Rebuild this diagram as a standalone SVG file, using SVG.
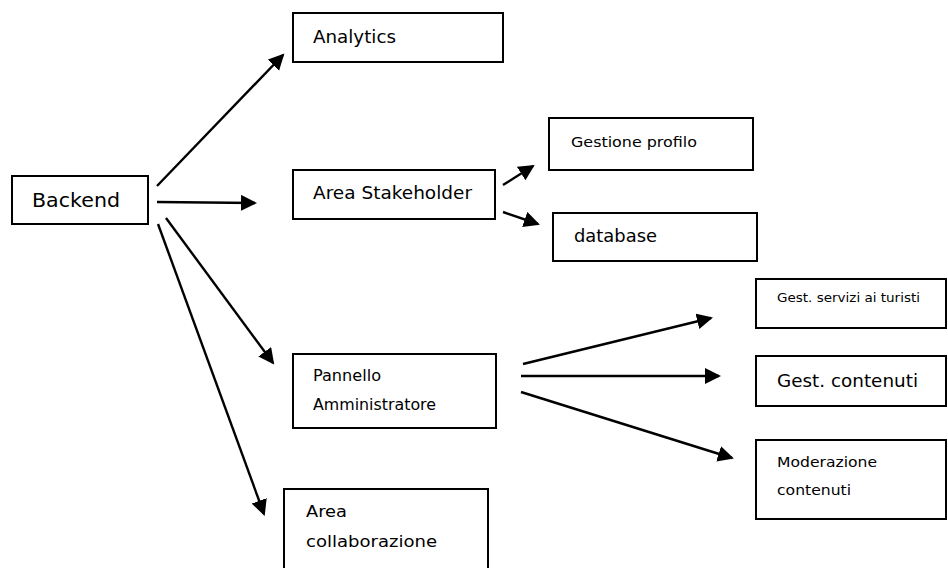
<svg xmlns="http://www.w3.org/2000/svg" width="948" height="568" viewBox="0 0 948 568">
<defs>
<marker id="ah" markerUnits="userSpaceOnUse" markerWidth="18" markerHeight="18" refX="14" refY="8" orient="auto">
<path d="M0,0 L16,8 L0,16 z" fill="#000"/>
</marker>
<style>
.box{fill:#fff;stroke:#000;stroke-width:2}
.t{font-family:"DejaVu Sans","Verdana",sans-serif;fill:#000}
.c{stroke:#000;stroke-width:2.4;fill:none;marker-end:url(#ah)}
</style>
</defs>
<rect width="948" height="568" fill="#fff"/>
<g id="backend"><rect class="box" x="12" y="176" width="136" height="48"/><text class="t" x="32" y="207" font-size="19" textLength="88" lengthAdjust="spacingAndGlyphs">Backend</text></g>
<g id="analytics"><rect class="box" x="293" y="13" width="210" height="49"/><text class="t" x="313" y="43" font-size="18" textLength="83" lengthAdjust="spacingAndGlyphs">Analytics</text></g>
<g id="stakeholder"><rect class="box" x="293" y="170" width="202" height="49"/><text class="t" x="313" y="199" font-size="18" textLength="159" lengthAdjust="spacingAndGlyphs">Area Stakeholder</text></g>
<g id="profilo"><rect class="box" x="549" y="118" width="204" height="52"/><text class="t" x="571" y="147" font-size="14.5" textLength="126" lengthAdjust="spacingAndGlyphs">Gestione profilo</text></g>
<g id="database"><rect class="box" x="553" y="213" width="204" height="48"/><text class="t" x="574" y="242" font-size="18" textLength="83" lengthAdjust="spacingAndGlyphs">database</text></g>
<g id="pannello"><rect class="box" x="293" y="354" width="203" height="74"/><text class="t" x="313" y="381" font-size="16" textLength="68" lengthAdjust="spacingAndGlyphs">Pannello</text><text class="t" x="313" y="410" font-size="16" textLength="123" lengthAdjust="spacingAndGlyphs">Amministratore</text></g>
<g id="collaborazione"><rect class="box" x="284" y="489" width="204" height="90"/><text class="t" x="306" y="517" font-size="16" textLength="41" lengthAdjust="spacingAndGlyphs">Area</text><text class="t" x="306" y="547" font-size="16" textLength="131" lengthAdjust="spacingAndGlyphs">collaborazione</text></g>
<g id="servizi"><rect class="box" x="756" y="279" width="190" height="49"/><text class="t" x="777" y="302" font-size="12" textLength="143" lengthAdjust="spacingAndGlyphs">Gest. servizi ai turisti</text></g>
<g id="contenuti"><rect class="box" x="756" y="356" width="190" height="50"/><text class="t" x="777" y="387" font-size="18" textLength="141" lengthAdjust="spacingAndGlyphs">Gest. contenuti</text></g>
<g id="moderazione"><rect class="box" x="756" y="440" width="190" height="79"/><text class="t" x="777" y="467" font-size="14.5" textLength="100" lengthAdjust="spacingAndGlyphs">Moderazione</text><text class="t" x="777" y="495" font-size="14.5" textLength="74" lengthAdjust="spacingAndGlyphs">contenuti</text></g>
<g id="connectors">
<line class="c" x1="157" y1="186" x2="283" y2="55"/>
<line class="c" x1="157" y1="202" x2="255" y2="203"/>
<line class="c" x1="166" y1="218" x2="273" y2="363"/>
<line class="c" x1="158" y1="224" x2="264" y2="514"/>
<line class="c" x1="503" y1="185" x2="533" y2="166"/>
<line class="c" x1="503" y1="212" x2="538" y2="224"/>
<line class="c" x1="523" y1="364" x2="711" y2="318"/>
<line class="c" x1="521" y1="376" x2="719" y2="376"/>
<line class="c" x1="521" y1="392" x2="732" y2="458"/>
</g>
</svg>
